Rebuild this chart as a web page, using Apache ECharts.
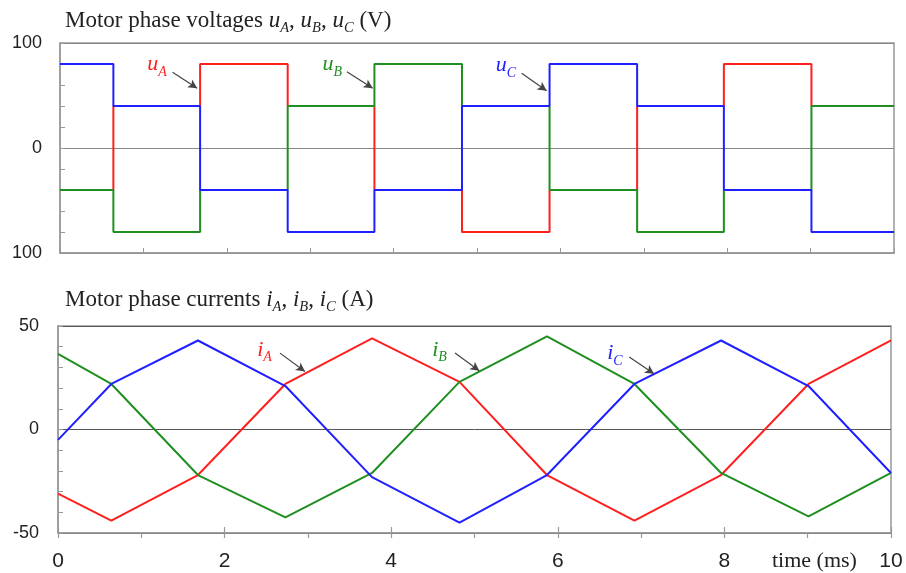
<!DOCTYPE html>
<html><head><meta charset="utf-8">
<script src="https://cdn.jsdelivr.net/npm/echarts@6/dist/echarts.min.js"></script>
<style>html,body{margin:0;padding:0;background:#fff}#c{width:906px;height:573px}</style>
</head><body><div id="c"></div>
<script>
// switching instants (ms) and segment values
const tSwitch = [0, 0.64, 1.68, 2.73, 3.77, 4.82, 5.87, 6.92, 7.96, 9.01, 10];
const uA = [-40, 40, 80, 40, -40, -80, -40, 40, 80, 40, 40];
const uB = [-40, -80, -40, 40, 80, 40, -40, -80, -40, 40, 40];
const uC = [80, 40, -40, -80, -40, 40, 80, 40, -40, -80, -80];
// phase currents at the same instants (A)
const iA = [-31, -44, -22, 22, 44, 23, -22, -44, -22, 22, 43];
const iB = [36.5, 22, -22, -42.5, -21, 23, 45, 22, -21, -42, -21];
const iC = [-5, 22, 43, 21, -23, -45, -22, 22, 43, 21, -21];
const xTicks = [0, 2, 4, 6, 8, 10];

const RED = '#ff1f1f', GREEN = '#1f8f1f', BLUE = '#1f1fff';
const serif = 'Liberation Serif';
const sans = 'Liberation Sans';

const pts = (v) => tSwitch.map((t, k) => [t, v[k]]);

function richLabel(color, size) {
  return {
    i: {fontFamily: serif, fontStyle: 'italic', fontSize: size, color: color, lineHeight: 30, verticalAlign: 'middle'},
    s: {fontFamily: serif, fontStyle: 'italic', fontSize: Math.round(size * 0.64), color: color, lineHeight: 12, verticalAlign: 'bottom'}
  };
}
function annot(coord, letter, sub, color) {
  return {
    coord: coord, symbol: 'circle', symbolSize: 1, itemStyle: {color: 'rgba(0,0,0,0)'},
    label: {show: true, position: 'right', distance: 0, formatter: '{i|' + letter + '}{s|' + sub + '}', rich: richLabel(color, 22)}
  };
}
function arrow(a, b) {
  return [{coord: a}, {coord: b}];
}
const arrowStyle = {
  silent: true, symbol: ['none', 'arrow'], symbolSize: [7, 9],
  lineStyle: {color: '#444', width: 1.2, type: 'solid'}, label: {show: false}, animation: false
};

const titleRich = {
  t: {fontFamily: serif, fontWeight: 'normal', fontSize: 23, color: '#222', lineHeight: 30, verticalAlign: 'middle'},
  i: {fontFamily: serif, fontWeight: 'normal', fontStyle: 'italic', fontSize: 23, color: '#222', lineHeight: 30, verticalAlign: 'middle'},
  s: {fontFamily: serif, fontWeight: 'normal', fontStyle: 'italic', fontSize: 14.5, color: '#222', lineHeight: 12, verticalAlign: 'bottom'}
};

const axisLineStyle = {onZero: false, lineStyle: {color: '#999', width: 1.5}};

const option = {
  animation: false,
  title: [
    {left: 60, top: 1, text: '{t|Motor phase voltages }{i|u}{s|A}{t|, }{i|u}{s|B}{t|, }{i|u}{s|C}{t| (V)}', textStyle: {fontWeight: 'normal', rich: titleRich}},
    {left: 60, top: 280, text: '{t|Motor phase currents }{i|i}{s|A}{t|, }{i|i}{s|B}{t|, }{i|i}{s|C}{t| (A)}', textStyle: {fontWeight: 'normal', rich: titleRich}}
  ],
  graphic: [
    {type: 'text', left: 772, top: 550, style: {text: 'time (ms)', fontFamily: serif, fontSize: 22, fill: '#222'}}
  ],
  grid: [
    {left: 60, right: 12, top: 43, height: 210, show: true, borderColor: '#999', borderWidth: 1.5},
    {left: 58, right: 15, top: 326, height: 207, show: true, borderColor: '#999', borderWidth: 1.5}
  ],
  xAxis: [
    {gridIndex: 0, type: 'value', min: 0, max: 10, interval: 1, axisLine: axisLineStyle,
     axisTick: {inside: true, length: 5, lineStyle: {color: '#999'}}, axisLabel: {show: false}, splitLine: {show: false}},
    {gridIndex: 1, type: 'value', min: 0, max: 10, interval: 2, axisLine: axisLineStyle,
     axisTick: {inside: false, length: 5, lineStyle: {color: '#999', width: 1.2}},
     minorTick: {show: true, splitNumber: 2, length: 5, lineStyle: {color: '#999', width: 1.2}},
     axisLabel: {fontFamily: sans, fontSize: 21, color: '#222', margin: 18,
       customValues: xTicks}, splitLine: {show: false}},
    {gridIndex: 1, type: 'value', min: 0, max: 10, interval: 2, position: 'bottom', axisLine: {show: false, onZero: false},
     axisTick: {inside: true, length: 6, lineStyle: {color: '#999', width: 1.2}}, axisLabel: {show: false}, splitLine: {show: false}}
  ],
  yAxis: [
    {gridIndex: 0, type: 'value', min: -100, max: 100, interval: 100, axisLine: {show: true, onZero: false, lineStyle: {color: '#999', width: 1.5}},
     axisTick: {inside: true, length: 5, lineStyle: {color: '#999'}},
     minorTick: {show: true, splitNumber: 5, length: 5, lineStyle: {color: '#999'}},
     axisLabel: {fontFamily: sans, fontSize: 18, color: '#222', margin: 18, formatter: (v) => String(Math.abs(v))},
     splitLine: {show: true, lineStyle: {color: '#888', width: 1}}},
    {gridIndex: 1, type: 'value', min: -50, max: 50, interval: 50, axisLine: {show: true, onZero: false, lineStyle: {color: '#999', width: 1.5}},
     axisTick: {inside: true, length: 5, lineStyle: {color: '#999'}},
     minorTick: {show: true, splitNumber: 5, length: 5, lineStyle: {color: '#999'}},
     axisLabel: {fontFamily: sans, fontSize: 18, color: '#222', margin: 19},
     splitLine: {show: true, lineStyle: {color: '#555', width: 1}}}
  ],
  series: [
    {name: 'uA', type: 'line', xAxisIndex: 0, yAxisIndex: 0, step: 'end', data: pts(uA), showSymbol: false,
     lineStyle: {color: RED, width: 2}, itemStyle: {color: RED},
     markPoint: {data: [annot([1.04, 80], 'u', 'A', RED)]},
     markLine: Object.assign({data: [arrow([1.35, 72.1], [1.645, 56.9])]}, arrowStyle)},
    {name: 'uB', type: 'line', xAxisIndex: 0, yAxisIndex: 0, step: 'end', data: pts(uB), showSymbol: false,
     lineStyle: {color: GREEN, width: 2}, itemStyle: {color: GREEN},
     markPoint: {data: [annot([3.14, 80], 'u', 'B', GREEN)]},
     markLine: Object.assign({data: [arrow([3.44, 72.7], [3.75, 56.9])]}, arrowStyle)},
    {name: 'uC', type: 'line', xAxisIndex: 0, yAxisIndex: 0, step: 'end', data: pts(uC), showSymbol: false,
     lineStyle: {color: BLUE, width: 2}, itemStyle: {color: BLUE},
     markPoint: {data: [annot([5.22, 79], 'u', 'C', BLUE)]},
     markLine: Object.assign({data: [arrow([5.535, 71.1], [5.835, 54.6])]}, arrowStyle)},
    {name: 'iA', type: 'line', xAxisIndex: 1, yAxisIndex: 1, data: pts(iA), showSymbol: false,
     lineStyle: {color: RED, width: 2}, itemStyle: {color: RED},
     markPoint: {data: [annot([2.385, 38.5], 'i', 'A', RED)]},
     markLine: Object.assign({data: [arrow([2.665, 36.9], [2.965, 28.0])]}, arrowStyle)},
    {name: 'iB', type: 'line', xAxisIndex: 1, yAxisIndex: 1, data: pts(iB), showSymbol: false,
     lineStyle: {color: GREEN, width: 2}, itemStyle: {color: GREEN},
     markPoint: {data: [annot([4.486, 38.5], 'i', 'B', GREEN)]},
     markLine: Object.assign({data: [arrow([4.766, 37.0], [5.058, 28.4])]}, arrowStyle)},
    {name: 'iC', type: 'line', xAxisIndex: 1, yAxisIndex: 1, data: pts(iC), showSymbol: false,
     lineStyle: {color: BLUE, width: 2}, itemStyle: {color: BLUE},
     markPoint: {data: [annot([6.587, 37], 'i', 'C', BLUE)]},
     markLine: Object.assign({data: [arrow([6.858, 35.0], [7.155, 26.9])]}, arrowStyle)}
  ]
};
const chart = echarts.init(document.getElementById('c'), null, {renderer: 'canvas'});
chart.setOption(option);
</script></body></html>
